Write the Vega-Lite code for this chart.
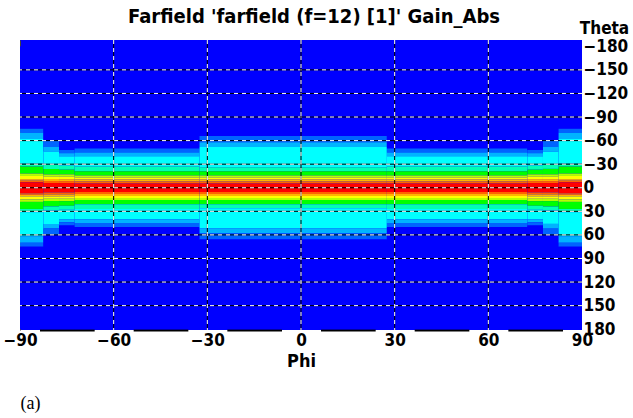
{
  "$schema": "https://vega.github.io/schema/vega-lite/v6.json",
  "autosize": {"type": "none"},
  "padding": {"left": 20, "top": 40, "right": 51, "bottom": 88},
  "width": 562,
  "height": 290,
  "background": "white",
  "view": {"fill": "#0000ff", "stroke": null},
  "title": {"text": "Farfield 'farfield (f=12) [1]' Gain_Abs", "font": "DejaVu Sans Condensed", "fontSize": 20, "fontWeight": "bold", "color": "#000000", "anchor": "middle", "dx": 13, "dy": 10, "offset": 2},
  "datasets": {
    "gain": [
      {"phi": -90, "phi2": -82.5, "theta": -180, "theta2": -75, "gain": -20},
      {"phi": -90, "phi2": -82.5, "theta": -75, "theta2": -70, "gain": -12},
      {"phi": -90, "phi2": -82.5, "theta": -70, "theta2": -62, "gain": -9},
      {"phi": -90, "phi2": -82.5, "theta": -62, "theta2": -31, "gain": -6},
      {"phi": -90, "phi2": -82.5, "theta": -31, "theta2": -27, "gain": -4},
      {"phi": -90, "phi2": -82.5, "theta": -27, "theta2": -18, "gain": -2},
      {"phi": -90, "phi2": -82.5, "theta": -18, "theta2": -15, "gain": 0},
      {"phi": -90, "phi2": -82.5, "theta": -15, "theta2": -11, "gain": 2},
      {"phi": -90, "phi2": -82.5, "theta": -11, "theta2": -9, "gain": 4},
      {"phi": -90, "phi2": -82.5, "theta": -9, "theta2": -7, "gain": 6},
      {"phi": -90, "phi2": -82.5, "theta": -7, "theta2": 7, "gain": 8},
      {"phi": -90, "phi2": -82.5, "theta": 7, "theta2": 9, "gain": 6},
      {"phi": -90, "phi2": -82.5, "theta": 9, "theta2": 11, "gain": 4},
      {"phi": -90, "phi2": -82.5, "theta": 11, "theta2": 15, "gain": 2},
      {"phi": -90, "phi2": -82.5, "theta": 15, "theta2": 18, "gain": 0},
      {"phi": -90, "phi2": -82.5, "theta": 18, "theta2": 27, "gain": -2},
      {"phi": -90, "phi2": -82.5, "theta": 27, "theta2": 31, "gain": -4},
      {"phi": -90, "phi2": -82.5, "theta": 31, "theta2": 62, "gain": -6},
      {"phi": -90, "phi2": -82.5, "theta": 62, "theta2": 70, "gain": -9},
      {"phi": -90, "phi2": -82.5, "theta": 70, "theta2": 75, "gain": -12},
      {"phi": -90, "phi2": -82.5, "theta": 75, "theta2": 180, "gain": -20},

      {"phi": -82.5, "phi2": -77.5, "theta": -180, "theta2": -60, "gain": -20},
      {"phi": -82.5, "phi2": -77.5, "theta": -60, "theta2": -52, "gain": -12},
      {"phi": -82.5, "phi2": -77.5, "theta": -52, "theta2": -46, "gain": -9},
      {"phi": -82.5, "phi2": -77.5, "theta": -46, "theta2": -29, "gain": -6},
      {"phi": -82.5, "phi2": -77.5, "theta": -29, "theta2": -24, "gain": -4},
      {"phi": -82.5, "phi2": -77.5, "theta": -24, "theta2": -17, "gain": -2},
      {"phi": -82.5, "phi2": -77.5, "theta": -17, "theta2": -14, "gain": 0},
      {"phi": -82.5, "phi2": -77.5, "theta": -14, "theta2": -11, "gain": 2},
      {"phi": -82.5, "phi2": -77.5, "theta": -11, "theta2": -8.5, "gain": 4},
      {"phi": -82.5, "phi2": -77.5, "theta": -8.5, "theta2": -6, "gain": 6},
      {"phi": -82.5, "phi2": -77.5, "theta": -6, "theta2": 6, "gain": 8},
      {"phi": -82.5, "phi2": -77.5, "theta": 6, "theta2": 8.5, "gain": 6},
      {"phi": -82.5, "phi2": -77.5, "theta": 8.5, "theta2": 11, "gain": 4},
      {"phi": -82.5, "phi2": -77.5, "theta": 11, "theta2": 14, "gain": 2},
      {"phi": -82.5, "phi2": -77.5, "theta": 14, "theta2": 17, "gain": 0},
      {"phi": -82.5, "phi2": -77.5, "theta": 17, "theta2": 24, "gain": -2},
      {"phi": -82.5, "phi2": -77.5, "theta": 24, "theta2": 29, "gain": -4},
      {"phi": -82.5, "phi2": -77.5, "theta": 29, "theta2": 46, "gain": -6},
      {"phi": -82.5, "phi2": -77.5, "theta": 46, "theta2": 52, "gain": -9},
      {"phi": -82.5, "phi2": -77.5, "theta": 52, "theta2": 60, "gain": -12},
      {"phi": -82.5, "phi2": -77.5, "theta": 60, "theta2": 180, "gain": -20},

      {"phi": -77.5, "phi2": -72.5, "theta": -180, "theta2": -48, "gain": -20},
      {"phi": -77.5, "phi2": -72.5, "theta": -48, "theta2": -44, "gain": -12},
      {"phi": -77.5, "phi2": -72.5, "theta": -44, "theta2": -40, "gain": -9},
      {"phi": -77.5, "phi2": -72.5, "theta": -40, "theta2": -28, "gain": -6},
      {"phi": -77.5, "phi2": -72.5, "theta": -28, "theta2": -23, "gain": -4},
      {"phi": -77.5, "phi2": -72.5, "theta": -23, "theta2": -17, "gain": -2},
      {"phi": -77.5, "phi2": -72.5, "theta": -17, "theta2": -14, "gain": 0},
      {"phi": -77.5, "phi2": -72.5, "theta": -14, "theta2": -11, "gain": 2},
      {"phi": -77.5, "phi2": -72.5, "theta": -11, "theta2": -8.5, "gain": 4},
      {"phi": -77.5, "phi2": -72.5, "theta": -8.5, "theta2": -6, "gain": 6},
      {"phi": -77.5, "phi2": -72.5, "theta": -6, "theta2": 6, "gain": 8},
      {"phi": -77.5, "phi2": -72.5, "theta": 6, "theta2": 8.5, "gain": 6},
      {"phi": -77.5, "phi2": -72.5, "theta": 8.5, "theta2": 11, "gain": 4},
      {"phi": -77.5, "phi2": -72.5, "theta": 11, "theta2": 14, "gain": 2},
      {"phi": -77.5, "phi2": -72.5, "theta": 14, "theta2": 17, "gain": 0},
      {"phi": -77.5, "phi2": -72.5, "theta": 17, "theta2": 23, "gain": -2},
      {"phi": -77.5, "phi2": -72.5, "theta": 23, "theta2": 28, "gain": -4},
      {"phi": -77.5, "phi2": -72.5, "theta": 28, "theta2": 40, "gain": -6},
      {"phi": -77.5, "phi2": -72.5, "theta": 40, "theta2": 44, "gain": -9},
      {"phi": -77.5, "phi2": -72.5, "theta": 44, "theta2": 48, "gain": -12},
      {"phi": -77.5, "phi2": -72.5, "theta": 48, "theta2": 180, "gain": -20},

      {"phi": -72.5, "phi2": -32.5, "theta": -180, "theta2": -50, "gain": -20},
      {"phi": -72.5, "phi2": -32.5, "theta": -50, "theta2": -45, "gain": -12},
      {"phi": -72.5, "phi2": -32.5, "theta": -45, "theta2": -40, "gain": -9},
      {"phi": -72.5, "phi2": -32.5, "theta": -40, "theta2": -27, "gain": -6},
      {"phi": -72.5, "phi2": -32.5, "theta": -27, "theta2": -21, "gain": -4},
      {"phi": -72.5, "phi2": -32.5, "theta": -21, "theta2": -15.5, "gain": -2},
      {"phi": -72.5, "phi2": -32.5, "theta": -15.5, "theta2": -13, "gain": 0},
      {"phi": -72.5, "phi2": -32.5, "theta": -13, "theta2": -10.5, "gain": 2},
      {"phi": -72.5, "phi2": -32.5, "theta": -10.5, "theta2": -8, "gain": 4},
      {"phi": -72.5, "phi2": -32.5, "theta": -8, "theta2": -5.5, "gain": 6},
      {"phi": -72.5, "phi2": -32.5, "theta": -5.5, "theta2": 5.5, "gain": 8},
      {"phi": -72.5, "phi2": -32.5, "theta": 5.5, "theta2": 8, "gain": 6},
      {"phi": -72.5, "phi2": -32.5, "theta": 8, "theta2": 10.5, "gain": 4},
      {"phi": -72.5, "phi2": -32.5, "theta": 10.5, "theta2": 13, "gain": 2},
      {"phi": -72.5, "phi2": -32.5, "theta": 13, "theta2": 15.5, "gain": 0},
      {"phi": -72.5, "phi2": -32.5, "theta": 15.5, "theta2": 21, "gain": -2},
      {"phi": -72.5, "phi2": -32.5, "theta": 21, "theta2": 27, "gain": -4},
      {"phi": -72.5, "phi2": -32.5, "theta": 27, "theta2": 40, "gain": -6},
      {"phi": -72.5, "phi2": -32.5, "theta": 40, "theta2": 45, "gain": -9},
      {"phi": -72.5, "phi2": -32.5, "theta": 45, "theta2": 50, "gain": -12},
      {"phi": -72.5, "phi2": -32.5, "theta": 50, "theta2": 180, "gain": -20},

      {"phi": -32.5, "phi2": 27.5, "theta": -180, "theta2": -66, "gain": -20},
      {"phi": -32.5, "phi2": 27.5, "theta": -66, "theta2": -58, "gain": -12},
      {"phi": -32.5, "phi2": 27.5, "theta": -58, "theta2": -52, "gain": -9},
      {"phi": -32.5, "phi2": 27.5, "theta": -52, "theta2": -26, "gain": -6},
      {"phi": -32.5, "phi2": 27.5, "theta": -26, "theta2": -21, "gain": -4},
      {"phi": -32.5, "phi2": 27.5, "theta": -21, "theta2": -15.5, "gain": -2},
      {"phi": -32.5, "phi2": 27.5, "theta": -15.5, "theta2": -13, "gain": 0},
      {"phi": -32.5, "phi2": 27.5, "theta": -13, "theta2": -10.5, "gain": 2},
      {"phi": -32.5, "phi2": 27.5, "theta": -10.5, "theta2": -8, "gain": 4},
      {"phi": -32.5, "phi2": 27.5, "theta": -8, "theta2": -5.5, "gain": 6},
      {"phi": -32.5, "phi2": 27.5, "theta": -5.5, "theta2": 5.5, "gain": 8},
      {"phi": -32.5, "phi2": 27.5, "theta": 5.5, "theta2": 8, "gain": 6},
      {"phi": -32.5, "phi2": 27.5, "theta": 8, "theta2": 10.5, "gain": 4},
      {"phi": -32.5, "phi2": 27.5, "theta": 10.5, "theta2": 13, "gain": 2},
      {"phi": -32.5, "phi2": 27.5, "theta": 13, "theta2": 15.5, "gain": 0},
      {"phi": -32.5, "phi2": 27.5, "theta": 15.5, "theta2": 21, "gain": -2},
      {"phi": -32.5, "phi2": 27.5, "theta": 21, "theta2": 26, "gain": -4},
      {"phi": -32.5, "phi2": 27.5, "theta": 26, "theta2": 52, "gain": -6},
      {"phi": -32.5, "phi2": 27.5, "theta": 52, "theta2": 58, "gain": -9},
      {"phi": -32.5, "phi2": 27.5, "theta": 58, "theta2": 66, "gain": -12},
      {"phi": -32.5, "phi2": 27.5, "theta": 66, "theta2": 180, "gain": -20},

      {"phi": 27.5, "phi2": 72.5, "theta": -180, "theta2": -50, "gain": -20},
      {"phi": 27.5, "phi2": 72.5, "theta": -50, "theta2": -45, "gain": -12},
      {"phi": 27.5, "phi2": 72.5, "theta": -45, "theta2": -40, "gain": -9},
      {"phi": 27.5, "phi2": 72.5, "theta": -40, "theta2": -27, "gain": -6},
      {"phi": 27.5, "phi2": 72.5, "theta": -27, "theta2": -21, "gain": -4},
      {"phi": 27.5, "phi2": 72.5, "theta": -21, "theta2": -15.5, "gain": -2},
      {"phi": 27.5, "phi2": 72.5, "theta": -15.5, "theta2": -13, "gain": 0},
      {"phi": 27.5, "phi2": 72.5, "theta": -13, "theta2": -10.5, "gain": 2},
      {"phi": 27.5, "phi2": 72.5, "theta": -10.5, "theta2": -8, "gain": 4},
      {"phi": 27.5, "phi2": 72.5, "theta": -8, "theta2": -5.5, "gain": 6},
      {"phi": 27.5, "phi2": 72.5, "theta": -5.5, "theta2": 5.5, "gain": 8},
      {"phi": 27.5, "phi2": 72.5, "theta": 5.5, "theta2": 8, "gain": 6},
      {"phi": 27.5, "phi2": 72.5, "theta": 8, "theta2": 10.5, "gain": 4},
      {"phi": 27.5, "phi2": 72.5, "theta": 10.5, "theta2": 13, "gain": 2},
      {"phi": 27.5, "phi2": 72.5, "theta": 13, "theta2": 15.5, "gain": 0},
      {"phi": 27.5, "phi2": 72.5, "theta": 15.5, "theta2": 21, "gain": -2},
      {"phi": 27.5, "phi2": 72.5, "theta": 21, "theta2": 27, "gain": -4},
      {"phi": 27.5, "phi2": 72.5, "theta": 27, "theta2": 40, "gain": -6},
      {"phi": 27.5, "phi2": 72.5, "theta": 40, "theta2": 45, "gain": -9},
      {"phi": 27.5, "phi2": 72.5, "theta": 45, "theta2": 50, "gain": -12},
      {"phi": 27.5, "phi2": 72.5, "theta": 50, "theta2": 180, "gain": -20},

      {"phi": 72.5, "phi2": 77.5, "theta": -180, "theta2": -48, "gain": -20},
      {"phi": 72.5, "phi2": 77.5, "theta": -48, "theta2": -44, "gain": -12},
      {"phi": 72.5, "phi2": 77.5, "theta": -44, "theta2": -40, "gain": -9},
      {"phi": 72.5, "phi2": 77.5, "theta": -40, "theta2": -28, "gain": -6},
      {"phi": 72.5, "phi2": 77.5, "theta": -28, "theta2": -23, "gain": -4},
      {"phi": 72.5, "phi2": 77.5, "theta": -23, "theta2": -17, "gain": -2},
      {"phi": 72.5, "phi2": 77.5, "theta": -17, "theta2": -14, "gain": 0},
      {"phi": 72.5, "phi2": 77.5, "theta": -14, "theta2": -11, "gain": 2},
      {"phi": 72.5, "phi2": 77.5, "theta": -11, "theta2": -8.5, "gain": 4},
      {"phi": 72.5, "phi2": 77.5, "theta": -8.5, "theta2": -6, "gain": 6},
      {"phi": 72.5, "phi2": 77.5, "theta": -6, "theta2": 6, "gain": 8},
      {"phi": 72.5, "phi2": 77.5, "theta": 6, "theta2": 8.5, "gain": 6},
      {"phi": 72.5, "phi2": 77.5, "theta": 8.5, "theta2": 11, "gain": 4},
      {"phi": 72.5, "phi2": 77.5, "theta": 11, "theta2": 14, "gain": 2},
      {"phi": 72.5, "phi2": 77.5, "theta": 14, "theta2": 17, "gain": 0},
      {"phi": 72.5, "phi2": 77.5, "theta": 17, "theta2": 23, "gain": -2},
      {"phi": 72.5, "phi2": 77.5, "theta": 23, "theta2": 28, "gain": -4},
      {"phi": 72.5, "phi2": 77.5, "theta": 28, "theta2": 40, "gain": -6},
      {"phi": 72.5, "phi2": 77.5, "theta": 40, "theta2": 44, "gain": -9},
      {"phi": 72.5, "phi2": 77.5, "theta": 44, "theta2": 48, "gain": -12},
      {"phi": 72.5, "phi2": 77.5, "theta": 48, "theta2": 180, "gain": -20},

      {"phi": 77.5, "phi2": 82.5, "theta": -180, "theta2": -60, "gain": -20},
      {"phi": 77.5, "phi2": 82.5, "theta": -60, "theta2": -52, "gain": -12},
      {"phi": 77.5, "phi2": 82.5, "theta": -52, "theta2": -46, "gain": -9},
      {"phi": 77.5, "phi2": 82.5, "theta": -46, "theta2": -29, "gain": -6},
      {"phi": 77.5, "phi2": 82.5, "theta": -29, "theta2": -24, "gain": -4},
      {"phi": 77.5, "phi2": 82.5, "theta": -24, "theta2": -17, "gain": -2},
      {"phi": 77.5, "phi2": 82.5, "theta": -17, "theta2": -14, "gain": 0},
      {"phi": 77.5, "phi2": 82.5, "theta": -14, "theta2": -11, "gain": 2},
      {"phi": 77.5, "phi2": 82.5, "theta": -11, "theta2": -8.5, "gain": 4},
      {"phi": 77.5, "phi2": 82.5, "theta": -8.5, "theta2": -6, "gain": 6},
      {"phi": 77.5, "phi2": 82.5, "theta": -6, "theta2": 6, "gain": 8},
      {"phi": 77.5, "phi2": 82.5, "theta": 6, "theta2": 8.5, "gain": 6},
      {"phi": 77.5, "phi2": 82.5, "theta": 8.5, "theta2": 11, "gain": 4},
      {"phi": 77.5, "phi2": 82.5, "theta": 11, "theta2": 14, "gain": 2},
      {"phi": 77.5, "phi2": 82.5, "theta": 14, "theta2": 17, "gain": 0},
      {"phi": 77.5, "phi2": 82.5, "theta": 17, "theta2": 24, "gain": -2},
      {"phi": 77.5, "phi2": 82.5, "theta": 24, "theta2": 29, "gain": -4},
      {"phi": 77.5, "phi2": 82.5, "theta": 29, "theta2": 46, "gain": -6},
      {"phi": 77.5, "phi2": 82.5, "theta": 46, "theta2": 52, "gain": -9},
      {"phi": 77.5, "phi2": 82.5, "theta": 52, "theta2": 60, "gain": -12},
      {"phi": 77.5, "phi2": 82.5, "theta": 60, "theta2": 180, "gain": -20},

      {"phi": 82.5, "phi2": 90, "theta": -180, "theta2": -75, "gain": -20},
      {"phi": 82.5, "phi2": 90, "theta": -75, "theta2": -70, "gain": -12},
      {"phi": 82.5, "phi2": 90, "theta": -70, "theta2": -62, "gain": -9},
      {"phi": 82.5, "phi2": 90, "theta": -62, "theta2": -31, "gain": -6},
      {"phi": 82.5, "phi2": 90, "theta": -31, "theta2": -27, "gain": -4},
      {"phi": 82.5, "phi2": 90, "theta": -27, "theta2": -18, "gain": -2},
      {"phi": 82.5, "phi2": 90, "theta": -18, "theta2": -15, "gain": 0},
      {"phi": 82.5, "phi2": 90, "theta": -15, "theta2": -11, "gain": 2},
      {"phi": 82.5, "phi2": 90, "theta": -11, "theta2": -9, "gain": 4},
      {"phi": 82.5, "phi2": 90, "theta": -9, "theta2": -7, "gain": 6},
      {"phi": 82.5, "phi2": 90, "theta": -7, "theta2": 7, "gain": 8},
      {"phi": 82.5, "phi2": 90, "theta": 7, "theta2": 9, "gain": 6},
      {"phi": 82.5, "phi2": 90, "theta": 9, "theta2": 11, "gain": 4},
      {"phi": 82.5, "phi2": 90, "theta": 11, "theta2": 15, "gain": 2},
      {"phi": 82.5, "phi2": 90, "theta": 15, "theta2": 18, "gain": 0},
      {"phi": 82.5, "phi2": 90, "theta": 18, "theta2": 27, "gain": -2},
      {"phi": 82.5, "phi2": 90, "theta": 27, "theta2": 31, "gain": -4},
      {"phi": 82.5, "phi2": 90, "theta": 31, "theta2": 62, "gain": -6},
      {"phi": 82.5, "phi2": 90, "theta": 62, "theta2": 70, "gain": -9},
      {"phi": 82.5, "phi2": 90, "theta": 70, "theta2": 75, "gain": -12},
      {"phi": 82.5, "phi2": 90, "theta": 75, "theta2": 180, "gain": -20}
    ],
    "gridTheta": [
      {"theta": -150}, {"theta": -120}, {"theta": -90}, {"theta": -60}, {"theta": -30}, {"theta": 0},
      {"theta": 30}, {"theta": 60}, {"theta": 90}, {"theta": 120}, {"theta": 150}
    ],
    "gridPhi": [
      {"phi": -60}, {"phi": -30}, {"phi": 0}, {"phi": 30}, {"phi": 60}
    ]
  },
  "resolve": {"axis": {"x": "independent", "y": "independent"}},
  "layer": [
    {
      "data": {"name": "gain"},
      "mark": {"type": "rect", "strokeWidth": 0},
      "encoding": {
        "x": {"field": "phi", "type": "quantitative",
          "scale": {"domain": [-90, 90], "nice": false, "zero": false},
          "axis": {"title": "Phi", "values": [-90, -60, -30, 0, 30, 60, 90], "grid": false, "ticks": false,
            "domain": true, "domainColor": "#000000", "domainWidth": 2, "domainDash": [54.67, 39], "domainDashOffset": 74.17,
            "labelFont": "DejaVu Sans Condensed", "labelFontSize": 17, "labelFontWeight": "bold", "labelColor": "#000000",
            "labelPadding": 2, "labelFlush": false, "labelOverlap": false, "labelBound": false,
            "titleFont": "DejaVu Sans Condensed", "titleFontSize": 18, "titleFontWeight": "bold", "titleColor": "#000000", "titlePadding": 4}},
        "x2": {"field": "phi2"},
        "y": {"field": "theta", "type": "quantitative",
          "scale": {"domain": [-188, 181], "nice": false, "zero": false, "reverse": true},
          "axis": {"orient": "right", "title": "Theta", "values": [-180, -150, -120, -90, -60, -30, 0, 30, 60, 90, 120, 150, 180],
            "grid": false, "ticks": false, "domain": false,
            "labelFont": "DejaVu Sans Condensed", "labelFontSize": 17, "labelFontWeight": "bold", "labelColor": "#000000",
            "labelAlign": "left", "labelBaseline": "middle", "labelPadding": 1, "labelOverlap": false, "labelBound": false, "labelFlush": false,
            "titleFont": "DejaVu Sans Condensed", "titleFontSize": 17, "titleFontWeight": "bold", "titleColor": "#000000",
            "titleAngle": 0, "titleAlign": "center", "titleBaseline": "alphabetic", "titleX": 22, "titleY": -7}},
        "y2": {"field": "theta2"},
        "color": {"field": "gain", "type": "quantitative", "legend": null,
          "scale": {"domain": [-20, -12, -9, -6, -4, -2, 0, 2, 4, 6, 8],
            "range": ["#0000ff", "#0064ff", "#00b4ff", "#00ffff", "#00ffb4", "#00ff00", "#b4ff00", "#ffff00", "#ffb400", "#ff6400", "#ff0000"]}}
      }
    },
    {
      "data": {"name": "gridTheta"},
      "mark": {"type": "rule", "color": "#000000", "strokeWidth": 1},
      "encoding": {
        "y": {"field": "theta", "type": "quantitative",
          "scale": {"domain": [-188, 181], "nice": false, "zero": false, "reverse": true},
          "axis": {"orient": "left", "title": null, "labels": false, "ticks": false, "grid": false, "domain": true, "domainColor": "#444444", "domainWidth": 1}}
      }
    },
    {
      "data": {"name": "gridTheta"},
      "mark": {"type": "rule", "color": "#ffffff", "strokeWidth": 1, "strokeDash": [4, 4]},
      "encoding": {
        "y": {"field": "theta", "type": "quantitative",
          "scale": {"domain": [-188, 181], "nice": false, "zero": false, "reverse": true}, "axis": null}
      }
    },
    {
      "data": {"name": "gridPhi"},
      "mark": {"type": "rule", "color": "#000000", "strokeWidth": 1},
      "encoding": {
        "x": {"field": "phi", "type": "quantitative",
          "scale": {"domain": [-90, 90], "nice": false, "zero": false}, "axis": null}
      }
    },
    {
      "data": {"name": "gridPhi"},
      "mark": {"type": "rule", "color": "#ffffff", "strokeWidth": 1, "strokeDash": [4, 4]},
      "encoding": {
        "x": {"field": "phi", "type": "quantitative",
          "scale": {"domain": [-90, 90], "nice": false, "zero": false},
          "axis": {"orient": "bottom", "title": "(a)", "labels": false, "ticks": false, "domain": false, "grid": false,
            "titleFont": "Liberation Serif", "titleFontSize": 18, "titleFontWeight": "normal", "titleColor": "#000000",
            "titleAnchor": "start", "titleAlign": "left", "titleBaseline": "alphabetic", "titleX": 0, "titleY": 78}}
      }
    }
  ]
}
